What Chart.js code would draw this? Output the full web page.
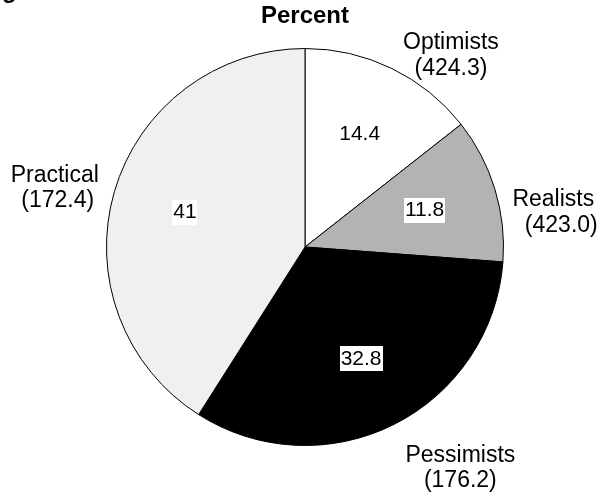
<!DOCTYPE html>
<html>
<head>
<meta charset="utf-8">
<script src="https://cdn.jsdelivr.net/npm/chart.js@4/dist/chart.umd.min.js"></script>
<style>
  html, body { margin: 0; padding: 0; background: #ffffff; }
  #wrap { position: relative; width: 602px; height: 499px; }
  canvas { display: block; }
</style>
</head>
<body>
<div id="wrap"><canvas id="pie" width="602" height="499"></canvas></div>
<script>
// Attitude groups, their share in percent and the figure shown under each name
const categories = ['Optimists', 'Realists', 'Pessimists', 'Practical'];
const percentValues = [14.4, 11.8, 32.8, 41];
const groupTotals = ['424.3', '423.0', '176.2', '172.4'];
const sliceColors = ['#ffffff', '#b3b3b3', '#000000', '#f0f0f0'];

const FONT = '"Liberation Sans", Arial, Helvetica, sans-serif';

// Value labels inside each slice, on a white box, plus the two-line group labels outside
const sliceLabels = {
  id: 'sliceLabels',
  afterDatasetsDraw(chart, args, opts) {
    const ctx = chart.ctx;
    const meta = chart.getDatasetMeta(0);
    const ds = chart.data.datasets[0];
    meta.data.forEach((arc, i) => {
      const p = arc.getProps(['x', 'y', 'startAngle', 'endAngle', 'outerRadius'], true);
      const mid = (p.startAngle + p.endAngle) / 2;
      const cos = Math.cos(mid), sin = Math.sin(mid);

      // value inside the slice
      const r = p.outerRadius * opts.innerRatio;
      const vx = p.x + cos * r, vy = p.y + sin * r;
      const text = String(ds.data[i]);
      ctx.save();
      ctx.font = opts.innerSize + 'px ' + FONT;
      const w = ctx.measureText(text).width;
      ctx.fillStyle = '#ffffff';
      ctx.fillRect(Math.round(vx - w / 2 - 1), Math.round(vy - opts.boxHeight / 2), Math.round(w + 2), opts.boxHeight);
      ctx.fillStyle = '#000000';
      ctx.textAlign = 'center';
      ctx.textBaseline = 'middle';
      ctx.fillText(text, vx, vy);
      ctx.restore();

      // group name and total outside the slice
      const ro = p.outerRadius + opts.outerGap;
      const ax = p.x + cos * ro, ay = p.y + sin * ro;
      const lines = [chart.data.labels[i], '(' + groupTotals[i] + ')'];
      const nudge = opts.nudges[i] || { dx: 0, dy: 0, dx2: 0 };
      ctx.save();
      ctx.font = opts.outerSize + 'px ' + FONT;
      const bw = Math.max(...lines.map(l => ctx.measureText(l).width));
      let cx;
      if (cos > 0.2) cx = ax + 6 + bw / 2;
      else if (cos < -0.2) cx = ax - 4 - bw / 2;
      else cx = ax;
      cx += nudge.dx;
      const cy = ay + nudge.dy;
      ctx.fillStyle = '#000000';
      ctx.textAlign = 'center';
      ctx.textBaseline = 'middle';
      ctx.fillText(lines[0], cx, cy - opts.lineHeight / 2);
      ctx.fillText(lines[1], cx + (nudge.dx2 || 0), cy + opts.lineHeight / 2);
      ctx.restore();
    });

    // descender of the heading line above the frame
    ctx.save();
    ctx.font = 'bold 24px ' + FONT;
    ctx.fillStyle = '#000000';
    ctx.textAlign = 'left';
    ctx.textBaseline = 'alphabetic';
    ctx.fillText('g', 2, -2);
    ctx.restore();
  }
};

new Chart(document.getElementById('pie'), {
  type: 'pie',
  data: {
    labels: categories,
    datasets: [{
      data: percentValues,
      backgroundColor: sliceColors,
      borderColor: '#000000',
      borderWidth: 1,
      hoverOffset: 0
    }]
  },
  options: {
    responsive: false,
    devicePixelRatio: 1,
    animation: false,
    events: [],
    layout: { padding: { left: 106, right: 98, top: 0, bottom: 53 } },
    plugins: {
      legend: { display: false },
      tooltip: { enabled: false },
      title: {
        display: true,
        text: 'Percent',
        color: '#000000',
        font: { family: FONT, size: 24, weight: 'bold', lineHeight: 1.2 },
        padding: { top: 2, bottom: 17.2 }
      },
      sliceLabels: {
        innerRatio: 0.63,
        innerSize: 21,
        boxHeight: 25,
        outerGap: 12,
        outerSize: 23,
        lineHeight: 25.5,
        nudges: [
          { dx: 0, dy: -2, dx2: 0 },
          { dx: 0, dy: 27, dx2: 8 },
          { dx: 0, dy: 33, dx2: 0 },
          { dx: 0, dy: 0, dx2: 3 }
        ]
      }
    }
  },
  plugins: [sliceLabels]
});
</script>
</body>
</html>
